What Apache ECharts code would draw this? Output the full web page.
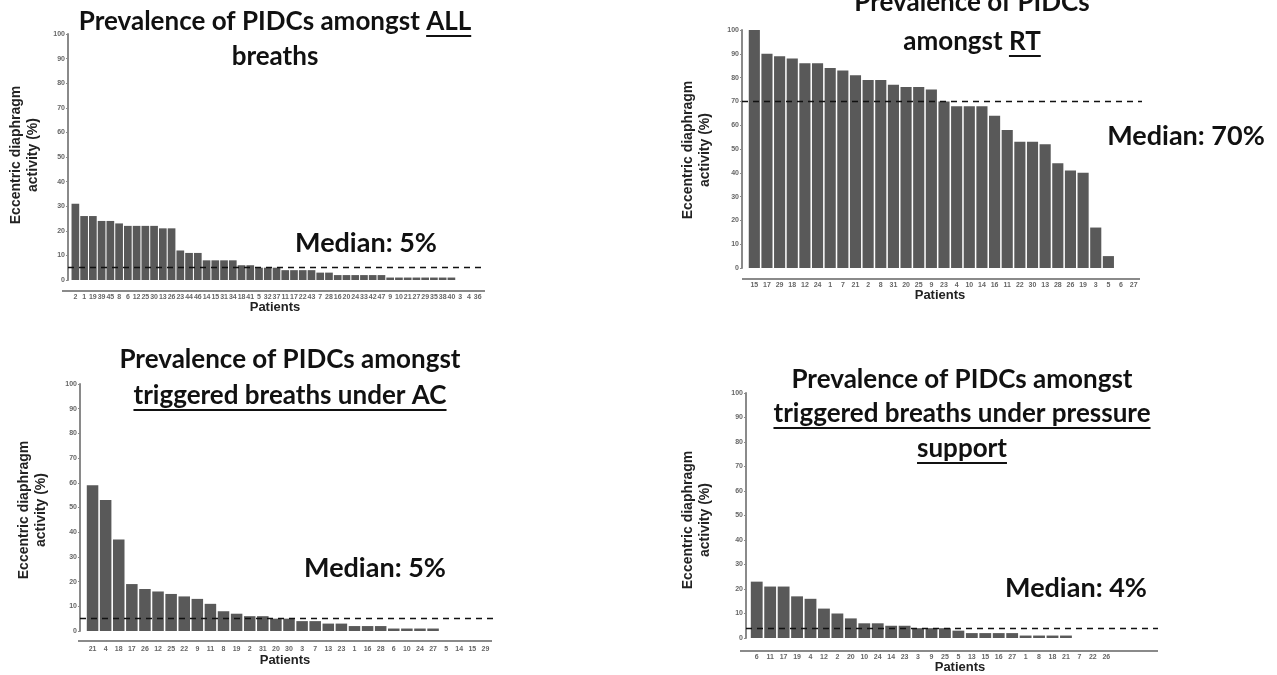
<!DOCTYPE html>
<html><head><meta charset="utf-8">
<script src="https://cdn.jsdelivr.net/npm/echarts@6/dist/echarts.min.js"></script>
<style>html,body{margin:0;padding:0;background:#fff}#c{width:1277px;height:675px}</style>
</head><body><div id="c"></div>
<script>
// ---- data ----
const cats1 = ['2','1','19','39','45','8','6','12','25','30','13','26','23','44','46','14','15','31','34','18','41','5','32','37','11','17','22','43','7','28','16','20','24','33','42','47','9','10','21','27','29','35','38','40','3','4','36'];
const vals1 = [31,26,26,24,24,23,22,22,22,22,21,21,12,11,11,8,8,8,8,6,6,5,5,5,4,4,4,4,3,3,2,2,2,2,2,2,1,1,1,1,1,1,1,1,0,0,0];
const median1 = 5;

const cats2 = ['15','17','29','18','12','24','1','7','21','2','8','31','20','25','9','23','4','10','14','16','11','22','30','13','28','26','19','3','5','6','27'];
const vals2 = [100,90,89,88,86,86,84,83,81,79,79,77,76,76,75,70,68,68,68,64,58,53,53,52,44,41,40,17,5,0,0];
const median2 = 70;

const cats3 = ['21','4','18','17','26','12','25','22','9','11','8','19','2','31','20','30','3','7','13','23','1','16','28','6','10','24','27','5','14','15','29'];
const vals3 = [59,53,37,19,17,16,15,14,13,11,8,7,6,6,5,5,4,4,3,3,2,2,2,1,1,1,1,0,0,0,0];
const median3 = 5;

const cats4 = ['6','11','17','19','4','12','2','20','10','24','14','23','3','9','25','5','13','15','16','27','1','8','18','21','7','22','26'];
const vals4 = [23,21,21,17,16,12,10,8,6,6,5,5,4,4,4,3,2,2,2,2,1,1,1,1,0,0,0];
const median4 = 4;

const yTicks = [0,10,20,30,40,50,60,70,80,90,100];

// ---- layout ----
const panels = [
  {cats:cats1, vals:vals1, med:median1, grid:{left:71, top:34, width:411, height:246}, yOff:3, base:{x1:62,x2:485,y:291}, lblMargin:14,
   pat:[275,307], ytitle:[25,155], medTxt:[366,243], lineEnd:484,
   title:[{cx:275, cy:22, parts:[['Prevalence of PIDCs amongst ',false],['ALL',true]]},{cx:275, cy:57, parts:[['breaths',false]]}]},
  {cats:cats2, vals:vals2, med:median2, grid:{left:748, top:30, width:392, height:238}, yOff:6, base:{x1:742,x2:1140,y:279}, lblMargin:14,
   pat:[940,295], ytitle:[697,150], medTxt:[1186,136], lineEnd:1142,
   title:[{cx:972, cy:3, parts:[['Prevalence of PIDCs',false]]},{cx:972, cy:42, parts:[['amongst ',false],['RT',true]]}]},
  {cats:cats3, vals:vals3, med:median3, grid:{left:86, top:384, width:406, height:247}, yOff:6, base:{x1:78,x2:492,y:641}, lblMargin:15,
   pat:[285,660], ytitle:[33,510], medTxt:[375,568], lineEnd:495,
   title:[{cx:290, cy:360, parts:[['Prevalence of PIDCs amongst',false]]},{cx:290, cy:396, parts:[['triggered breaths under AC',true]]}]},
  {cats:cats4, vals:vals4, med:median4, grid:{left:750, top:393, width:363, height:245}, yOff:4, base:{x1:740,x2:1158,y:651}, lblMargin:16,
   pat:[960,667], ytitle:[697,520], medTxt:[1076,588], lineEnd:1158,
   title:[{cx:962, cy:380, parts:[['Prevalence of PIDCs amongst',false]]},{cx:962, cy:414, parts:[['triggered breaths under pressure',true]]},{cx:962, cy:449, parts:[['support',true]]}]}
];

const TFONT = 'bold 26px Lato';
const MFONT = 'bold 27px Lato';
const mctx = document.createElement('canvas').getContext('2d');
function tw(s){ mctx.font = TFONT; return mctx.measureText(s).width; }

const grids=[], xAxes=[], yAxes=[], series=[], graphic=[];
panels.forEach((p,i)=>{
  grids.push(Object.assign({containLabel:false}, p.grid));
  xAxes.push({type:'category', gridIndex:i, data:p.cats,
    axisLine:{show:false}, axisTick:{show:false},
    axisLabel:{interval:0, fontSize:7, fontWeight:'bold', color:'#666', fontFamily:'Liberation Sans, Arial', margin:p.lblMargin, hideOverlap:false}});
  yAxes.push({type:'value', gridIndex:i, min:0, max:100, interval:10, offset:p.yOff,
    axisLine:{show:true, lineStyle:{color:'#8a8a8a', width:2}},
    axisTick:{show:true, length:2, lineStyle:{color:'#8a8a8a'}},
    splitLine:{show:false},
    axisLabel:{fontSize:7, fontWeight:'bold', color:'#666', fontFamily:'Liberation Sans, Arial', margin:3,
      formatter:v=>yTicks.includes(v)?String(v):''}});
  const n = p.cats.length;
  series.push({type:'bar', xAxisIndex:i, yAxisIndex:i, data:p.vals, barCategoryGap:'12%',
    itemStyle:{color:'#595959'},
    silent:true,
    markLine:{silent:true, symbol:['none','none'], label:{show:false},
      lineStyle:{color:'#111', type:[6,5], width:1.3},
      data:[[{xAxis:0, yAxis:p.med, x:p.grid.left - p.yOff}, {xAxis:n-1, yAxis:p.med, x:p.lineEnd}]]}});
  graphic.push({type:'line', shape:{x1:p.base.x1, y1:p.base.y, x2:p.base.x2, y2:p.base.y}, style:{stroke:'#8a8a8a', lineWidth:2}});
  graphic.push({type:'text', x:p.pat[0], y:p.pat[1], style:{text:'Patients', font:'bold 13px "Liberation Sans", Arial', fill:'#222', align:'center', verticalAlign:'middle'}});
  graphic.push({type:'text', x:p.ytitle[0], y:p.ytitle[1], rotation:Math.PI/2,
    style:{text:'Eccentric diaphragm\nactivity (%)', font:'bold 14px "Liberation Sans", Arial', fill:'#222', align:'center', verticalAlign:'middle', lineHeight:17}});
  graphic.push({type:'text', x:p.medTxt[0], y:p.medTxt[1], style:{text:'Median: '+p.med+'%', font:MFONT, fill:'#111', align:'center', verticalAlign:'middle'}});
  p.title.forEach(t=>{
    const full = t.parts.map(q=>q[0]).join('');
    const W = tw(full);
    let x = t.cx - W/2;
    t.parts.forEach(([s,u])=>{
      const w = tw(s);
      graphic.push({type:'text', x:x, y:t.cy, style:{text:s, font:TFONT, fill:'#111', align:'left', verticalAlign:'middle'}});
      if(u){
        const sw = tw(s.replace(/\s+$/,''));
        graphic.push({type:'line', shape:{x1:x, y1:t.cy+14, x2:x+sw, y2:t.cy+14}, style:{stroke:'#111', lineWidth:2}});
      }
      x += w;
    });
  });
});

const chart = echarts.init(document.getElementById('c'), null, {renderer:'canvas'});
chart.setOption({animation:false, backgroundColor:'#fff', grid:grids, xAxis:xAxes, yAxis:yAxes, series:series, graphic:graphic});
</script></body></html>
